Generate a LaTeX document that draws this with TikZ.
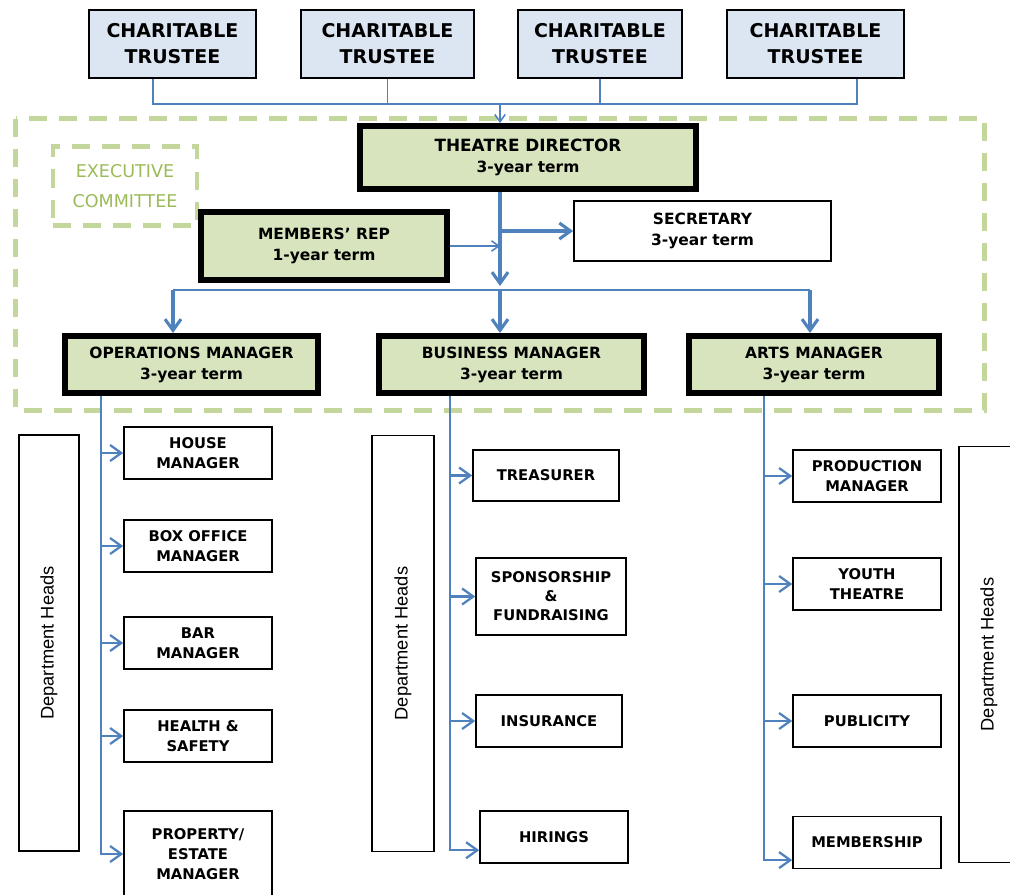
\documentclass[tikz,border=0pt]{standalone}
\usepackage{fontspec}
\setmainfont{DejaVu Sans}
\newfontfamily\arialfont{Liberation Sans}
\usetikzlibrary{arrows.meta}
\definecolor{linkblue}{HTML}{4F81BD}
\definecolor{boardgreen}{HTML}{C3D69B}
\definecolor{execgreen}{HTML}{9BBB59}
\definecolor{leadfill}{HTML}{D7E4BD}
\definecolor{trustfill}{HTML}{DCE6F2}

\begin{document}
\begin{tikzpicture}[x=0.025cm,y=-0.025cm,
  trustee/.style={draw=black,line width=1.2pt,fill=trustfill,minimum height=1.7cm,align=center,inner sep=0pt,font=\bfseries\fontsize{13.5}{18.5}\selectfont},
  lead/.style={draw=black,line width=0.15cm,fill=leadfill,minimum height=1.425cm,align=center,inner sep=0pt,font=\bfseries\fontsize{11}{15}\selectfont},
  post/.style={draw=black,line width=1.1pt,minimum width=3.7cm,minimum height=1.3cm,align=center,inner sep=0pt,font=\bfseries\fontsize{10.5}{14.5}\selectfont},
  heads/.style={draw=black,line width=1.1pt,rotate=90,minimum width=10.4cm,minimum height=1.5cm,inner sep=0pt,font=\arialfont\fontsize{13}{15}\selectfont},
  board/.style={draw=boardgreen,line width=3.5pt,dash pattern=on 0.45cm off 0.3cm},
  feed/.style={draw=linkblue,line width=1.6pt},
  thick feed/.style={draw=linkblue,line width=2.2pt},
  thin feed/.style={draw=linkblue,line width=1.1pt},
  arrowed/.style={-{Straight Barb[length=2.8mm,width=4mm]}},
  small arrowed/.style={-{Straight Barb[length=1.8mm,width=2.6mm]}},
]
\useasboundingbox (0,0) rectangle (1010,894);
\clip (0,0) rectangle (1010,894);

\draw[board] (15.5,118.5) rectangle (984.5,410.5);

\node[trustee,minimum width=4.175cm] (t1) at (172.5,44) {CHARITABLE\\TRUSTEE};
\node[trustee,minimum width=4.325cm] (t2) at (387.5,44) {CHARITABLE\\TRUSTEE};
\node[trustee,minimum width=4.1cm] (t3) at (600,44) {CHARITABLE\\TRUSTEE};
\node[trustee,minimum width=4.425cm] (t4) at (815.5,44) {CHARITABLE\\TRUSTEE};

\node[board,minimum width=3.6cm,minimum height=1.975cm,align=center,inner sep=0pt,text=execgreen,font=\fontsize{12.5}{21}\selectfont] (exec) at (125,186) {EXECUTIVE\\COMMITTEE};

\node[lead,minimum width=8.4cm,minimum height=1.575cm] (dir) at (528,157.5) {{\fontsize{12}{15}\selectfont THEATRE DIRECTOR}\\3-year term};
\node[lead,minimum width=6.15cm,minimum height=1.7cm] (rep) at (324,246) {MEMBERS’ REP\\1-year term};
\node[post,minimum width=6.425cm,minimum height=1.5cm,font=\bfseries\fontsize{11}{15}\selectfont] (sec) at (702.5,231) {SECRETARY\\3-year term};

\node[lead,minimum width=6.325cm] (ops) at (191.5,364.5) {OPERATIONS MANAGER\\3-year term};
\node[lead,minimum width=6.625cm] (biz) at (511.5,364.5) {BUSINESS MANAGER\\3-year term};
\node[lead,minimum width=6.25cm] (arts) at (814,364.5) {ARTS MANAGER\\3-year term};

\node[heads] (opsheads) at (49,643) {Department Heads};
\node[heads,minimum height=1.55cm] (bizheads) at (403,643.5) {Department Heads};
\node[heads] (artsheads) at (989,654.5) {Department Heads};

\node[post] (house) at (198,453) {HOUSE\\MANAGER};
\node[post] (boxoff) at (198,546) {BOX OFFICE\\MANAGER};
\node[post] (bar) at (198,643) {BAR\\MANAGER};
\node[post] (health) at (198,736) {HEALTH \&\\SAFETY};
\node[post,minimum height=2.15cm] (prop) at (198,854) {PROPERTY/\\ESTATE\\MANAGER};

\node[post,minimum width=3.65cm,minimum height=1.275cm] (treas) at (546,475.5) {TREASURER};
\node[post,minimum width=3.75cm,minimum height=1.925cm,font=\bfseries\fontsize{10.5}{13.5}\selectfont] (spons) at (551,596.5) {SPONSORSHIP\\\&\\FUNDRAISING};
\node[post,minimum width=3.65cm] (insur) at (549,721) {INSURANCE};
\node[post] (hire) at (554,837) {HIRINGS};

\node[post] (prod) at (867,476) {PRODUCTION\\MANAGER};
\node[post] (youth) at (867,584) {YOUTH\\THEATRE};
\node[post] (publ) at (867,721) {PUBLICITY};
\node[post] (memb) at (867,842.5) {MEMBERSHIP};

\coordinate (busL) at (153,104);
\coordinate (busR) at (857,104);
\coordinate (dirX) at (500,104);
\coordinate (split) at (500,290);
\coordinate (opsIn) at (173,290);
\coordinate (artsIn) at (810,290);
\coordinate (opsX) at (101,400);
\coordinate (bizX) at (450,400);
\coordinate (artsX) at (764,400);
\coordinate (hireIn) at ([yshift=-0.33cm]hire.west);
\coordinate (membIn) at ([yshift=-0.44cm]memb.west);

\draw[thin feed] (t1.south -| busL) -- (busL) -- (busR) -- (t4.south -| busR);
\draw[thin feed] (t2.south) -- (t2.south |- busL);
\draw[thin feed] (t3.south) -- (t3.south |- busL);
\draw[thin feed,small arrowed] (dirX) -- (dir.north -| dirX);

\draw[thick feed,arrowed] (dir.south -| dirX) -- ([yshift=0.1cm]split);
\draw[thick feed,arrowed] (split) -- (biz.north -| split);
\draw[thick feed,arrowed] (dirX |- sec.west) -- (sec.west);
\draw[thin feed,small arrowed] (rep.east) -- (rep.east -| dirX);
\draw[thin feed] (opsIn) -- (artsIn);
\draw[thick feed,arrowed] (opsIn) -- (ops.north -| opsIn);
\draw[thick feed,arrowed] (artsIn) -- (arts.north -| artsIn);

\draw[feed,arrowed] (ops.south -| opsX) -- (opsX |- prop.west) -- (prop.west);
\draw[feed,arrowed] (opsX |- house.west) -- (house.west);
\draw[feed,arrowed] (opsX |- boxoff.west) -- (boxoff.west);
\draw[feed,arrowed] (opsX |- bar.west) -- (bar.west);
\draw[feed,arrowed] (opsX |- health.west) -- (health.west);

\draw[feed,arrowed] (biz.south -| bizX) -- (bizX |- hireIn) -- (hireIn);
\draw[feed,arrowed] (bizX |- treas.west) -- (treas.west);
\draw[feed,arrowed] (bizX |- spons.west) -- (spons.west);
\draw[feed,arrowed] (bizX |- insur.west) -- (insur.west);

\draw[feed,arrowed] (arts.south -| artsX) -- (artsX |- membIn) -- (membIn);
\draw[feed,arrowed] (artsX |- prod.west) -- (prod.west);
\draw[feed,arrowed] (artsX |- youth.west) -- (youth.west);
\draw[feed,arrowed] (artsX |- publ.west) -- (publ.west);
\end{tikzpicture}
\end{document}
